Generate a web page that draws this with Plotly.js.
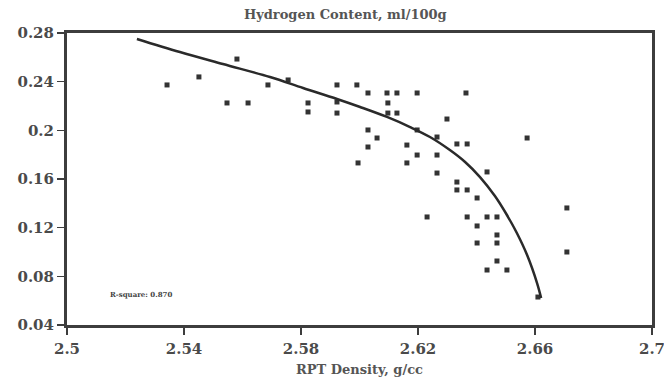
<!DOCTYPE html>
<html>
<head>
<meta charset="utf-8">
<script src="https://cdn.plot.ly/plotly-3.0.1.min.js"></script>
<style>html,body{margin:0;padding:0;background:#fff;}#chart{width:664px;height:381px;}</style>
</head>
<body>
<div id="chart"></div>
<script>
// Measured samples
const density = [2.5342,2.5451,2.5547,2.5581,2.5619,2.5687,2.5756,2.5824,2.5824,2.5923,2.5991,2.6029,2.6094,2.6128,2.6197,2.6364,2.5923,2.5923,2.6097,2.6097,2.6128,2.6029,2.6060,2.6029,2.5995,2.6197,2.6162,2.6197,2.6162,2.6299,2.6265,2.6265,2.6265,2.6333,2.6368,2.6333,2.6333,2.6368,2.6436,2.6402,2.6231,2.6368,2.6436,2.6470,2.6402,2.6470,2.6470,2.6402,2.6470,2.6436,2.6504,2.6610,2.6573,2.6709,2.6709];
const hydrogen = [0.2373,0.2439,0.2225,0.2586,0.2225,0.2373,0.2414,0.2225,0.2151,0.2373,0.2373,0.2307,0.2307,0.2307,0.2307,0.2307,0.2233,0.2142,0.2225,0.2142,0.2142,0.2003,0.1937,0.1863,0.1732,0.2003,0.1879,0.1797,0.1732,0.2093,0.1945,0.1797,0.1649,0.1888,0.1888,0.1575,0.1510,0.1510,0.1658,0.1444,0.1288,0.1288,0.1288,0.1288,0.1214,0.1140,0.1074,0.1074,0.0926,0.0852,0.0852,0.0630,0.1937,0.1362,0.1000];
// Fitted curve
const fitDensity = [2.5239,2.5386,2.5533,2.5694,2.5807,2.5923,2.6002,2.6094,2.6173,2.6241,2.6309,2.6361,2.6412,2.6463,2.6504,2.6538,2.6573,2.6607,2.6621];
const fitHydrogen = [0.2751,0.2644,0.2545,0.2438,0.2348,0.2258,0.2192,0.2110,0.2027,0.1945,0.1838,0.1740,0.1616,0.1460,0.1304,0.1156,0.0975,0.0745,0.0622];
const xTicks = [2.5,2.54,2.58,2.62,2.66,2.7];
const xTickText = ['2.5','2.54','2.58','2.62','2.66','2.7'];
const yTicks = [0.04,0.08,0.12,0.16,0.2,0.24,0.28];
const yTickText = ['0.04','0.08','0.12','0.16','0.2','0.24','0.28'];

const serif = 'DejaVu Serif, Liberation Serif, serif';
const tickFont = {family:serif, size:15, color:'#4a4a4a', weight:'bold'};
const data = [
  {x:density, y:hydrogen, type:'scatter', mode:'markers',
   marker:{symbol:'square', size:5, color:'#333'}},
  {x:fitDensity, y:fitHydrogen, type:'scatter', mode:'lines',
   line:{color:'#2a2a2a', width:2.5, shape:'spline', smoothing:1}}
];
const axisCommon = {showline:true, mirror:true, linewidth:3, linecolor:'#3d3d3d',
  ticks:'outside', ticklen:7, tickwidth:1.5, tickcolor:'#3d3d3d', showgrid:false, zeroline:false,
  tickfont:tickFont, ticklabeloverflow:'allow'};
const layout = {
  width:664, height:381,
  margin:{l:67, r:12, t:33, b:56},
  paper_bgcolor:'#fff', plot_bgcolor:'#fff',
  showlegend:false,
  title:{text:'Hydrogen Content, ml/100g', x:0.52, xanchor:'center', y:0.975, yanchor:'top',
    font:{family:serif, size:13, color:'#555', weight:'bold'}},
  xaxis:Object.assign({}, axisCommon, {range:[2.5,2.7], tickmode:'array', tickvals:xTicks, ticktext:xTickText,
    ticklabelstandoff:1,
    title:{text:'RPT Density, g/cc', standoff:8, font:{family:serif, size:13, color:'#555', weight:'bold'}}}),
  yaxis:Object.assign({}, axisCommon, {range:[0.04,0.28], tickmode:'array', tickvals:yTicks, ticktext:yTickText,
    ticklabelstandoff:0}),
  annotations:[{text:'R-square: 0.870', xref:'paper', yref:'paper', x:0.07, y:0.103, xanchor:'left', yanchor:'middle',
    showarrow:false, font:{family:serif, size:7, color:'#444', weight:'bold'}}]
};
Plotly.newPlot('chart', data, layout, {displayModeBar:false, staticPlot:true});
</script>
</body>
</html>
